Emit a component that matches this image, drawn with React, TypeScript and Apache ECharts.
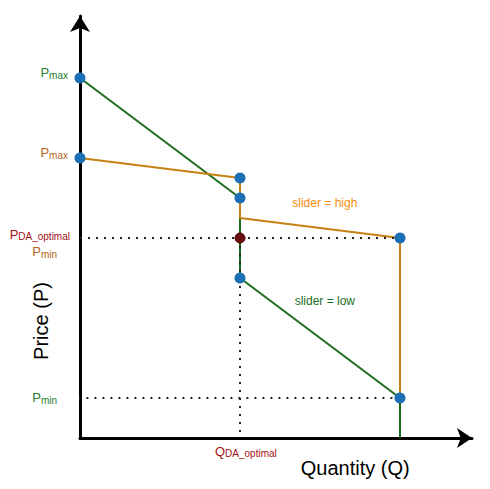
import { useEffect, useRef } from "react";
import * as echarts from "echarts";

// ---- data (axis units: Q along x, P along y) ----
const greenCurve: [number, number][] = [[0, 18], [1, 12], [1, 8], [2, 2], [2, 0]];
const orangeCurve: [number, number][] = [[0, 14], [1, 13], [1, 11], [2, 10], [2, 2]];
const bluePoints: [number, number][] = [[0, 18], [0, 14], [1, 13], [1, 12], [2, 10], [1, 8], [2, 2]];
const optimalPoint: [number, number][] = [[1, 10]];
const dottedPriceDA: [number, number][] = [[0, 10], [2, 10]];
const dottedPriceMin: [number, number][] = [[-0.06, 2], [2, 2]];
const dottedQuantityDA: [number, number][] = [[1, 10], [1, 0]];
const axisMax = { q: 2.45, p: 21.1 };

const pGreenMax = 18;
const pOrangeMax = 14;
const pOptimal = 10;
const pGreenMin = 2;
const qOptimal = 1;
const sliderHighAnchor: [number, number] = [1.53, 11.75];
const sliderLowAnchor: [number, number] = [1.53, 6.85];
const quantityTitleAnchor: [number, number] = [1.72, 0];
const priceTitleAnchor: [number, number] = [0, 5.85];

const C = {
  green: "#1b6d1b",
  greenText: "#23802f",
  orange: "#c98012",
  orangeText: "#b5661a",
  sliderHigh: "#f28c0c",
  red: "#a30f14",
  blue: "#1b6fb5",
  maroon: "#6e0b0b",
};

const FONT = "'Liberation Sans', Arial, Helvetica, sans-serif";

function subRich(color: string, subPad: number) {
  return {
    p: { fontSize: 13, lineHeight: 16, fill: color, fontFamily: FONT },
    s: { fontSize: 10, lineHeight: 10, padding: [subPad, 0, 0, 0], fill: color, fontFamily: FONT },
  };
}

export default function App() {
  const ref = useRef<HTMLDivElement>(null);
  useEffect(() => {
    if (!ref.current) return;
    const chart = echarts.init(ref.current, null, { renderer: "svg" });
    const dotted = { color: "#222", width: 2, type: [2, 6] as number[] };
    chart.setOption({
      animation: false,
      backgroundColor: "#fff",
      grid: { left: 80, right: 18, top: 16, bottom: 51 },
      xAxis: {
        type: "value",
        min: 0,
        max: axisMax.q,
        axisLine: {
          show: true,
          onZero: false,
          symbol: ["none", "arrow"],
          symbolSize: [15, 15],
          lineStyle: { color: "#000", width: 3 },
        },
        axisTick: { show: false },
        axisLabel: { show: false },
        splitLine: { show: false },
      },
      yAxis: {
        type: "value",
        min: 0,
        max: axisMax.p,
        axisLine: {
          show: true,
          onZero: false,
          symbol: ["none", "arrow"],
          symbolSize: [15, 16],
          lineStyle: { color: "#000", width: 3 },
        },
        axisTick: { show: false },
        axisLabel: { show: false },
        splitLine: { show: false },
      },
      series: [
        { type: "line", data: greenCurve, symbol: "none", lineStyle: { color: C.green, width: 2 }, z: 2 },
        { type: "line", data: orangeCurve, symbol: "none", lineStyle: { color: C.orange, width: 2 }, z: 3 },
        { type: "line", data: dottedPriceDA, symbol: "none", lineStyle: dotted, z: 4, clip: false },
        { type: "line", data: dottedPriceMin, symbol: "none", lineStyle: dotted, z: 4, clip: false },
        { type: "line", data: dottedQuantityDA, symbol: "none", lineStyle: dotted, z: 4, clip: false },
        { type: "scatter", data: bluePoints, symbolSize: 11, itemStyle: { color: C.blue, opacity: 1 }, z: 5 },
        {
          type: "scatter",
          data: optimalPoint,
          symbolSize: 10,
          itemStyle: { color: C.maroon, borderColor: "#3d0505", borderWidth: 1, opacity: 1 },
          z: 6,
        },
      ],
    });

    const px = (q: number, p: number) => chart.convertToPixel({ gridIndex: 0 }, [q, p]) as number[];
    const axisX = px(0, 0)[0];
    const axisY = px(0, 0)[1];

    const yLabel = (p: number, dy: number, rightGap: number, rich: any, text: string) => ({
      type: "text",
      x: axisX - rightGap,
      y: px(0, p)[1] + dy,
      style: { text, rich, align: "right", verticalAlign: "middle" },
    });

    chart.setOption({
      graphic: [
        yLabel(pGreenMax, -5.5, 12, subRich(C.greenText, 6), "{p|P}{s|max}"),
        yLabel(pOrangeMax, -5.5, 12, subRich(C.orangeText, 6), "{p|P}{s|max}"),
        yLabel(pOptimal, -3.5, 10, subRich(C.red, 3), "{p|P}{s|DA_optimal}"),
        yLabel(pOptimal, 13.5, 23, subRich(C.orangeText, 6), "{p|P}{s|min}"),
        yLabel(pGreenMin, -0.5, 23, subRich(C.greenText, 6), "{p|P}{s|min}"),
        {
          type: "text",
          x: px(qOptimal, 0)[0] - 25,
          y: axisY + 13.5,
          style: { text: "{p|Q}{s|DA_optimal}", rich: subRich(C.red, 4), align: "left", verticalAlign: "middle" },
        },
        {
          type: "text",
          x: px(...sliderHighAnchor)[0],
          y: px(...sliderHighAnchor)[1],
          style: { text: "slider = high", fill: C.sliderHigh, font: `12px ${FONT}`, align: "center", verticalAlign: "middle" },
        },
        {
          type: "text",
          x: px(...sliderLowAnchor)[0],
          y: px(...sliderLowAnchor)[1],
          style: { text: "slider = low", fill: C.green, font: `12px ${FONT}`, align: "center", verticalAlign: "middle" },
        },
        {
          type: "text",
          x: px(...quantityTitleAnchor)[0],
          y: axisY + 30,
          style: { text: "Quantity (Q)", fill: "#000", font: `20px ${FONT}`, align: "center", verticalAlign: "middle" },
        },
        {
          type: "text",
          x: axisX - 39,
          y: px(...priceTitleAnchor)[1],
          rotation: Math.PI / 2,
          style: { text: "Price (P)", fill: "#000", font: `20px ${FONT}`, align: "center", verticalAlign: "middle" },
        },
      ],
    });

    return () => chart.dispose();
  }, []);
  return <div ref={ref} style={{ position: "absolute", left: 0, top: 0, width: 490, height: 489 }} />;
}
